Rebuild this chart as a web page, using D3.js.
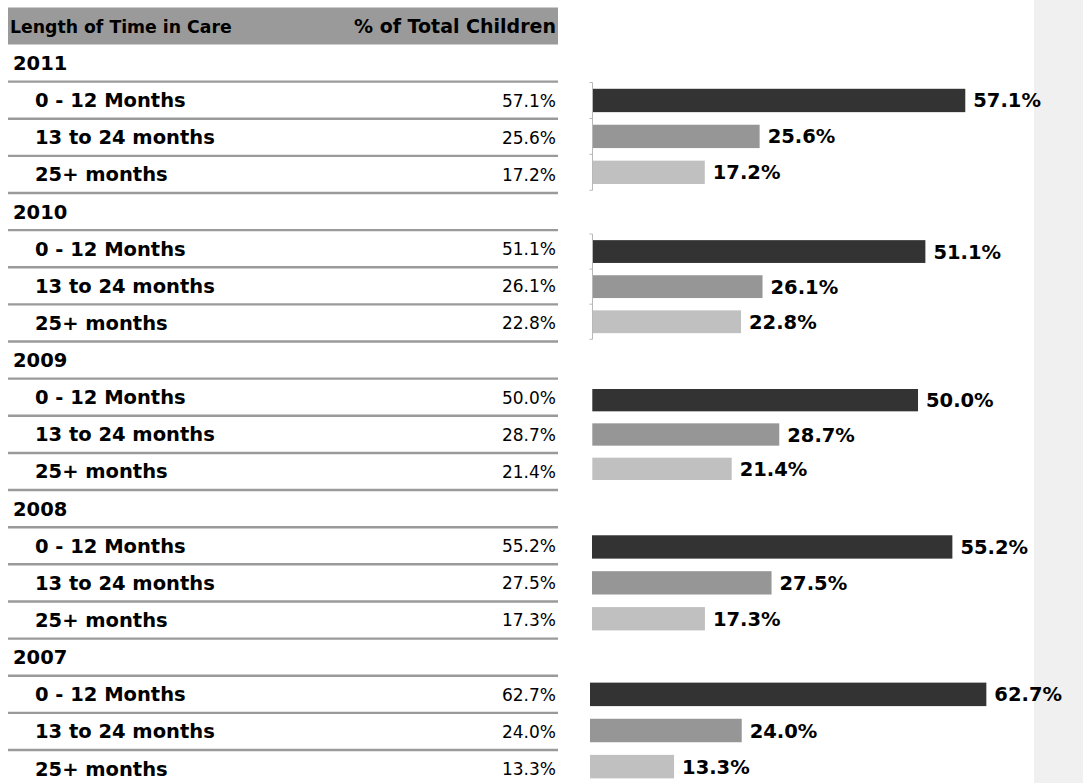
<!DOCTYPE html>
<html>
<head>
<meta charset="utf-8">
<script src="https://cdn.jsdelivr.net/npm/d3@7"></script>
<style>
  html, body { margin: 0; padding: 0; background: #ffffff; }
  svg { display: block; }
  text { font-family: "DejaVu Sans", "Liberation Sans", sans-serif; fill: #000; }
</style>
</head>
<body>
<svg id="chart" width="1083" height="783"></svg>
<script>
// Children in care by length of time, share of total per year
const years = ["2011", "2010", "2009", "2008", "2007"];
const durations = ["0 - 12 Months", "13 to 24 months", "25+ months"];
const pct0to12 = [57.1, 51.1, 50.0, 55.2, 62.7];
const pct13to24 = [25.6, 26.1, 28.7, 27.5, 24.0];
const pct25plus = [17.2, 22.8, 21.4, 17.3, 13.3];
const headers = ["Length of Time in Care", "% of Total Children"];

const seriesByDuration = [pct0to12, pct13to24, pct25plus];
const barColors = ["#333333", "#969696", "#c0c0c0"];

// Each year's bar group is its own small chart with its own frame
const groupFrames = [
  { top: 82.5, bottom: 190.3, x0: 592.5, width: 457, axis: true },
  { top: 234, bottom: 339.3, x0: 592.5, width: 456, axis: true },
  { top: 383, bottom: 486, x0: 592.3, width: 456, axis: false },
  { top: 529, bottom: 636.7, x0: 592, width: 457, axis: false },
  { top: 676.3, bottom: 784.7, x0: 590, width: 442.5, axis: false }
];

const svg = d3.select("#chart");
const fmt = v => v.toFixed(1) + "%";

// Right-hand grey strip
svg.append("rect").attr("x", 1034).attr("y", 0).attr("width", 49).attr("height", 783)
  .attr("fill", "#f0f0f0");

// ---- Table ----
const tableLeft = 8, tableRight = 558;
const rows = [];
years.forEach((yr, yi) => {
  rows.push({ type: "year", label: yr });
  durations.forEach((d, di) => rows.push({ type: "item", label: d, value: seriesByDuration[di][yi] }));
});

const rowPitch = 37.13;
const rowTop = 44.5;
const yRow = d3.scaleBand().domain(d3.range(rows.length))
  .range([rowTop, rowTop + rowPitch * rows.length]);

// Header band
svg.append("rect").attr("x", tableLeft).attr("y", 7.5)
  .attr("width", tableRight - tableLeft).attr("height", rowTop - 7.5)
  .attr("fill", "#9a9a9a");
svg.append("text").attr("x", 10).attr("y", 26 + 6.5)
  .attr("font-size", 17.3).attr("font-weight", "bold")
  .text(headers[0]);
svg.append("text").attr("x", 556).attr("y", 26 + 6.8)
  .attr("text-anchor", "end")
  .attr("font-size", 19).attr("font-weight", "bold")
  .text(headers[1]);

// Row separators
svg.append("g").selectAll("line").data(rows.slice(0, -1)).join("line")
  .attr("x1", tableLeft).attr("x2", tableRight)
  .attr("y1", (d, i) => yRow(i) + yRow.bandwidth())
  .attr("y2", (d, i) => yRow(i) + yRow.bandwidth())
  .attr("stroke", "#9a9a9a").attr("stroke-width", 2.4);

// Row labels
const rowG = svg.append("g").selectAll("g").data(rows).join("g")
  .attr("transform", (d, i) => `translate(0,${yRow(i) + yRow.bandwidth() / 2})`);
rowG.append("text")
  .attr("x", d => d.type === "year" ? 13 : 35)
  .attr("y", 7)
  .attr("font-size", 19.5).attr("font-weight", "bold")
  .text(d => d.label);
rowG.filter(d => d.type === "item").append("text")
  .attr("x", 556).attr("y", 6.3)
  .attr("text-anchor", "end").attr("font-size", 17)
  .text(d => fmt(d.value));

// ---- Bar groups ----
years.forEach((yr, yi) => {
  const f = groupFrames[yi];
  const y = d3.scaleBand().domain(durations).range([f.top, f.bottom])
    .paddingInner(0.35).paddingOuter(0.175);
  const x = d3.scaleLinear().domain([0, 70]).range([f.x0, f.x0 + f.width]);
  const g = svg.append("g");
  const vals = durations.map((d, di) => ({ d, v: seriesByDuration[di][yi], c: barColors[di] }));

  g.selectAll("rect").data(vals).join("rect")
    .attr("x", x(0)).attr("y", d => y(d.d))
    .attr("width", d => x(d.v) - x(0)).attr("height", y.bandwidth())
    .attr("fill", d => d.c);

  g.selectAll("text").data(vals).join("text")
    .attr("x", d => x(d.v) + 8)
    .attr("y", d => y(d.d) + y.bandwidth() / 2 + 7)
    .attr("font-size", 19.5).attr("font-weight", "bold")
    .text(d => fmt(d.v));

  if (f.axis) {
    const ax = g.append("g").attr("stroke", "#b8b8b8").attr("stroke-width", 1);
    ax.append("line").attr("x1", x(0)).attr("x2", x(0))
      .attr("y1", f.top).attr("y2", f.bottom);
    const tickYs = [f.top].concat(durations.map(d => y(d) - y.step() * y.paddingInner() / 2).slice(1), [f.bottom]);
    ax.selectAll("line.tick").data(tickYs).join("line").attr("class", "tick")
      .attr("x1", x(0) - 3).attr("x2", x(0))
      .attr("y1", d => d).attr("y2", d => d);
  }
});
</script>
</body>
</html>
